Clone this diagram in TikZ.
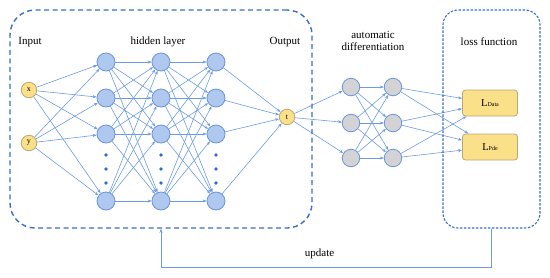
\documentclass[tikz,border=0pt]{standalone}
\usepackage{fontspec}
\setmainfont{Liberation Serif}
\usetikzlibrary{arrows.meta,positioning,calc,backgrounds}
\definecolor{edge}{HTML}{6C9CE4}
\definecolor{frame}{HTML}{3A6FC4}
\definecolor{hidfill}{HTML}{AFC8F0}
\definecolor{hidline}{HTML}{6A95D8}
\definecolor{yel}{HTML}{FBE08A}
\definecolor{yelline}{HTML}{B9A774}
\definecolor{grayfill}{HTML}{D3D3D5}
\definecolor{dotblue}{HTML}{2C6ED8}

\begin{document}
\begin{tikzpicture}[x=1pt,y=-1pt,
  every node/.style={font=\fontsize{11}{12.5}\selectfont,align=center},
  neuron/.style={circle,draw=hidline,fill=hidfill,line width=0.8pt,minimum size=18pt,inner sep=0pt},
  invar/.style={circle,draw=yelline,fill=yel,line width=0.8pt,minimum size=15.5pt,inner sep=0pt,font=\fontsize{8}{9}\selectfont},
  diffnode/.style={circle,draw=hidline,fill=grayfill,line width=0.8pt,minimum size=17.5pt,inner sep=0pt},
  lossbox/.style={draw=yelline,fill=yel,rounded corners=3pt,line width=0.8pt,minimum width=55pt,minimum height=26pt,font=\fontsize{10.5}{11}\selectfont},
  netframe/.style={draw=frame,line width=1.4pt,dash pattern=on 5pt off 3.5pt,rounded corners=25pt,inner sep=0pt},
  lossframe/.style={draw=frame,line width=1.1pt,dash pattern=on 2.5pt off 1.5pt,rounded corners=15pt,inner sep=0pt},
  arr/.style={-{Stealth[length=4pt,width=3pt]},draw=edge,line width=0.6pt}
]
\useasboundingbox (0,0) rectangle (550,277);

% frames
\node[netframe,minimum width=302pt,minimum height=218pt] (net) at (161,119) {};
\node[lossframe,minimum width=97pt,minimum height=218pt] (loss) at (491.5,119) {};

% labels
\node (inlab) at (30,42) {Input};
\node (hidlab) at (158,42) {hidden layer};
\node (outlab) at (285,42) {Output};
\node (adlab) at (373,41) {automatic\\[-1pt]differentiation};
\node (losslab) at (489,42) {loss function};

% input and output
\node[invar] (x) at (29,90) {x};
\node[invar] (y) at (29,143) {y};
\node[invar] (t) at (287,117) {t};

% hidden layers
\node[neuron] (a1) at (106,62) {};
\node[neuron] (a2) at (106,98) {};
\node[neuron] (a3) at (106,134) {};
\node[neuron] (a4) at (106,201) {};
\node[neuron] (b1) at (161,62) {};
\node[neuron] (b2) at (161,98) {};
\node[neuron] (b3) at (161,134) {};
\node[neuron] (b4) at (161,201) {};
\node[neuron] (c1) at (216,62) {};
\node[neuron] (c2) at (216,98) {};
\node[neuron] (c3) at (216,134) {};
\node[neuron] (c4) at (216,201) {};
\foreach \px in {106,161,216}
  \foreach \py in {155,169,183}
    \fill[dotblue] (\px,\py) circle (1.8pt);

% automatic differentiation
\node[diffnode] (g1) at (351,87) {};
\node[diffnode] (g2) at (351,123) {};
\node[diffnode] (g3) at (351,158) {};
\node[diffnode] (k1) at (393,87) {};
\node[diffnode] (k2) at (393,123) {};
\node[diffnode] (k3) at (393,158) {};

% losses
\node[lossbox] (ldata) at (490,103) {L{\fontsize{6}{7}\selectfont Data}};
\node[lossbox] (lpde) at (490,147) {L{\fontsize{6}{7}\selectfont Pde}};

\begin{scope}[on background layer]
\foreach \i in {1,...,4} {
  \draw[arr] (x) -- (a\i);
  \draw[arr] (y) -- (a\i);
  \draw[arr] (c\i) -- (t);
  \foreach \j in {1,...,4} {
    \draw[arr] (a\i) -- (b\j);
    \draw[arr] (b\i) -- (c\j);
  }
}
\foreach \i in {1,2,3} {
  \draw[arr] (t) -- (g\i);
  \draw[arr] (k\i) -- (ldata);
  \draw[arr] (k\i) -- (lpde);
  \foreach \j in {1,2,3}
    \draw[arr] (g\i) -- (k\j);
}
\end{scope}

% update loop
\coordinate (turn) at (161,267);
\draw[arr,line width=1pt] (loss.south) |- node[pos=0.76,above=4pt]{update} (turn) -- (net.south);
\end{tikzpicture}
\end{document}
